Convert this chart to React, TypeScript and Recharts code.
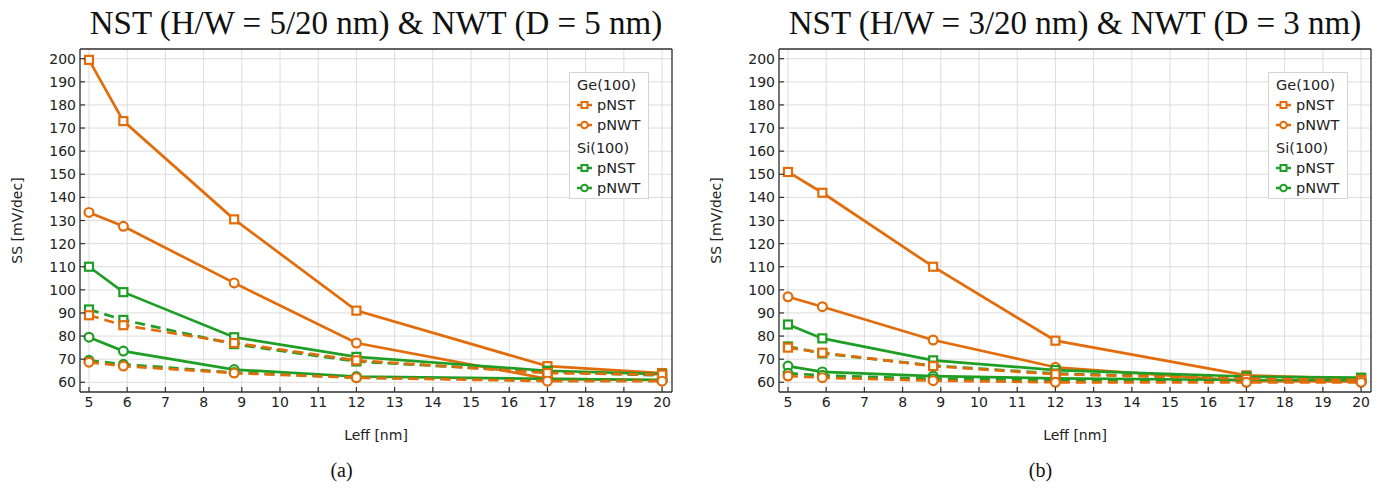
import React from "react";
import { LineChart, Line, XAxis, YAxis, CartesianGrid, Legend } from "recharts";

// gate length points, nm
const leff = [5, 5.9, 8.8, 12, 17, 20];
const xTicks = [5, 6, 7, 8, 9, 10, 11, 12, 13, 14, 15, 16, 17, 18, 19, 20];
const yTicks = [60, 70, 80, 90, 100, 110, 120, 130, 140, 150, 160, 170, 180, 190, 200];

// (a) NST 5/20 nm, NWT D = 5 nm
const aGeNst = [199.5, 173, 130.5, 91, 67, 64];
const aGeNwt = [133.5, 127.5, 103, 77, 61.5, 61];
const aSiNst = [110, 99, 79.5, 71, 65, 63.5];
const aSiNwt = [79.5, 73.5, 65.5, 62.5, 61.5, 61];
const aGeNstDash = [89, 84.7, 77, 69.5, 64, 63.3];
const aGeNwtDash = [68.7, 67, 64, 62, 60.5, 60.5];
const aSiNstDash = [91.5, 87, 76.5, 69, 64.5, 63];
const aSiNwtDash = [69.5, 67.8, 64.2, 62, 61, 60.7];

// (b) NST 3/20 nm, NWT D = 3 nm
const bGeNst = [151, 142, 110, 78, 63, 61.5];
const bGeNwt = [97, 92.7, 78.3, 66.5, 60.5, 60.3];
const bSiNst = [85, 79, 69.5, 65.3, 62.5, 62];
const bSiNwt = [67, 64.5, 62.7, 61.7, 61, 61];
const bGeNstDash = [75, 72.8, 67, 63.5, 61.5, 61];
const bGeNwtDash = [62.7, 62, 60.7, 60, 60, 60];
const bSiNstDash = [75.5, 72.5, 67.2, 63.8, 61.7, 61.2];
const bSiNwtDash = [63.9, 63, 61.5, 61, 60.5, 60.5];

const ORANGE = "#e36c0a";
const GREEN = "#1f9e25";
const FRAME = "#333";
const SANS = "DejaVu Sans, sans-serif";
const SERIF = "Liberation Serif, Times New Roman, serif";

const X_DOMAIN = [4.765, 20.26];
const Y_DOMAIN = [55.8, 204.2];

type Shape = "square" | "circle";
type Series = { key: string; values: number[]; color: string; shape: Shape; dashed: boolean };

function buildSeries(v: number[][]): Series[] {
  const [geNst, geNwt, siNst, siNwt, geNstD, geNwtD, siNstD, siNwtD] = v;
  return [
    { key: "geNst", values: geNst, color: ORANGE, shape: "square", dashed: false },
    { key: "geNwt", values: geNwt, color: ORANGE, shape: "circle", dashed: false },
    { key: "siNst", values: siNst, color: GREEN, shape: "square", dashed: false },
    { key: "siNwt", values: siNwt, color: GREEN, shape: "circle", dashed: false },
    { key: "siNstD", values: siNstD, color: GREEN, shape: "square", dashed: true },
    { key: "siNwtD", values: siNwtD, color: GREEN, shape: "circle", dashed: true },
    { key: "geNstD", values: geNstD, color: ORANGE, shape: "square", dashed: true },
    { key: "geNwtD", values: geNwtD, color: ORANGE, shape: "circle", dashed: true },
  ];
}

const panels = [
  {
    title: "NST (H/W = 5/20 nm) & NWT (D = 5 nm)",
    caption: "(a)",
    series: buildSeries([aGeNst, aGeNwt, aSiNst, aSiNwt, aGeNstDash, aGeNwtDash, aSiNstDash, aSiNwtDash]),
  },
  {
    title: "NST (H/W = 3/20 nm) & NWT (D = 3 nm)",
    caption: "(b)",
    series: buildSeries([bGeNst, bGeNwt, bSiNst, bSiNwt, bGeNstDash, bGeNwtDash, bSiNstDash, bSiNwtDash]),
  },
];

const legendGroups = [
  { title: "Ge(100)", color: ORANGE, items: [{ label: "pNST", shape: "square" as Shape }, { label: "pNWT", shape: "circle" as Shape }] },
  { title: "Si(100)", color: GREEN, items: [{ label: "pNST", shape: "square" as Shape }, { label: "pNWT", shape: "circle" as Shape }] },
];

function makeDot(shape: Shape, color: string, name: string) {
  return (props: any) => {
    const { cx, cy, index } = props;
    if (cx == null || cy == null) return <g key={`${name}-${index}`} />;
    if (shape === "square") {
      return <rect key={`${name}-${index}`} x={cx - 4} y={cy - 4} width={8} height={8} fill="#fff" stroke={color} strokeWidth={2.2} />;
    }
    return <circle key={`${name}-${index}`} cx={cx} cy={cy} r={4.4} fill="#fff" stroke={color} strokeWidth={2.2} />;
  };
}

const XTick = (props: any) => {
  const { x, y, payload } = props;
  return (
    <g>
      <line x1={x} y1={y} x2={x} y2={y - 5} stroke={FRAME} strokeWidth={1.2} />
      <text x={x} y={y + 15} textAnchor="middle" fontSize={14} fill="#222" fontFamily={SANS}>
        {payload.value}
      </text>
    </g>
  );
};

const YTick = (props: any) => {
  const { x, y, payload } = props;
  return (
    <g>
      <line x1={x} y1={y} x2={x + 5} y2={y} stroke={FRAME} strokeWidth={1.2} />
      <text x={x - 4} y={y + 5} textAnchor="end" fontSize={14} fill="#222" fontFamily={SANS}>
        {payload.value}
      </text>
    </g>
  );
};

function LegendIcon({ shape, color }: { shape: Shape; color: string }) {
  return (
    <svg width={16} height={12} style={{ display: "block" }}>
      <line x1={0} y1={6} x2={15} y2={6} stroke={color} strokeWidth={2.5} />
      {shape === "square" ? (
        <rect x={4.5} y={3} width={6} height={6} fill="#fff" stroke={color} strokeWidth={2} />
      ) : (
        <circle cx={7.5} cy={6} r={3.3} fill="#fff" stroke={color} strokeWidth={2} />
      )}
    </svg>
  );
}

function LegendBox() {
  return (
    <div
      style={{
        boxSizing: "border-box",
        width: 80,
        height: 127,
        border: "1px solid #d4d4d4",
        background: "#fff",
        padding: "3px 0 0 7px",
        fontFamily: SANS,
        fontSize: 14.5,
        color: "#222",
      }}
    >
      {legendGroups.map((g, gi) => (
        <div key={g.title} style={{ marginTop: gi === 0 ? 0 : 4 }}>
          <div style={{ height: 19, lineHeight: "19px" }}>{g.title}</div>
          {g.items.map((it) => (
            <div key={it.label} style={{ height: 20, display: "flex", alignItems: "center" }}>
              <LegendIcon shape={it.shape} color={g.color} />
              <span style={{ marginLeft: 4, lineHeight: "20px" }}>{it.label}</span>
            </div>
          ))}
        </div>
      ))}
    </div>
  );
}

function Panel({ title, caption, series, left }: { title: string; caption: string; series: Series[]; left: number }) {
  const data = leff.map((x, i) => {
    const row: Record<string, number> = { leff: x };
    series.forEach((s) => (row[s.key] = s.values[i]));
    return row;
  });

  return (
    <div style={{ position: "absolute", left, top: 0, width: 700, height: 490 }}>
      <div
        style={{
          position: "absolute",
          left: 80,
          width: 592,
          top: 3,
          textAlign: "center",
          fontFamily: SERIF,
          fontSize: 33,
          lineHeight: "40px",
          color: "#111",
          whiteSpace: "nowrap",
        }}
      >
        {title}
      </div>
      <div style={{ position: "absolute", left: 0, top: 0 }}>
        <LineChart width={700} height={490} data={data} margin={{ top: 49, right: 28, bottom: 68, left: 0 }}>
          <CartesianGrid stroke="#dcdcdc" strokeWidth={1} />
          <XAxis
            dataKey="leff"
            type="number"
            domain={X_DOMAIN}
            allowDataOverflow
            ticks={xTicks}
            interval={0}
            height={30}
            tickSize={0}
            tickMargin={0}
            tickLine={false}
            axisLine={{ stroke: FRAME, strokeWidth: 1.3 }}
            tick={<XTick />}
            label={{
              content: (p: any) => {
                const vb = p.viewBox || {};
                return (
                  <text x={vb.x + vb.width / 2} y={440} textAnchor="middle" fontSize={14} fill="#222" fontFamily={SANS}>
                    Leff [nm]
                  </text>
                );
              },
            }}
          />
          <XAxis
            xAxisId="top"
            orientation="top"
            mirror
            dataKey="leff"
            type="number"
            domain={X_DOMAIN}
            allowDataOverflow
            ticks={xTicks}
            interval={0}
            tick={false}
            tickSize={5}
            axisLine={{ stroke: FRAME, strokeWidth: 1.3 }}
            tickLine={{ stroke: FRAME, strokeWidth: 1.2 }}
          />
          <YAxis
            type="number"
            domain={Y_DOMAIN}
            allowDataOverflow
            ticks={yTicks}
            interval={0}
            width={80}
            tickSize={0}
            tickMargin={0}
            tickLine={false}
            axisLine={{ stroke: FRAME, strokeWidth: 1.3 }}
            tick={<YTick />}
            label={{
              content: (p: any) => {
                const vb = p.viewBox || {};
                const cy = vb.y + vb.height / 2;
                return (
                  <text
                    x={22}
                    y={cy}
                    transform={`rotate(-90 22 ${cy})`}
                    textAnchor="middle"
                    fontSize={14}
                    fill="#222"
                    fontFamily={SANS}
                  >
                    SS [mV/dec]
                  </text>
                );
              },
            }}
          />
          <YAxis
            yAxisId="right"
            orientation="right"
            mirror
            type="number"
            domain={Y_DOMAIN}
            allowDataOverflow
            ticks={yTicks}
            interval={0}
            tick={false}
            tickSize={5}
            axisLine={{ stroke: FRAME, strokeWidth: 1.3 }}
            tickLine={{ stroke: FRAME, strokeWidth: 1.2 }}
          />
          <Legend
            layout="vertical"
            align="center"
            verticalAlign="middle"
            wrapperStyle={{ left: 569, top: 72, width: 80, height: 127 }}
            content={() => <LegendBox />}
          />
          {series.map((s) => (
            <Line
              key={s.key}
              dataKey={s.key}
              type="linear"
              stroke={s.color}
              strokeWidth={2.7}
              strokeDasharray={s.dashed ? "10 6" : undefined}
              dot={makeDot(s.shape, s.color, s.key)}
              activeDot={false}
              legendType="none"
              isAnimationActive={false}
            />
          ))}
        </LineChart>
      </div>
      <div
        style={{
          position: "absolute",
          left: 0,
          width: 683,
          top: 457,
          textAlign: "center",
          fontFamily: SERIF,
          fontSize: 20,
          lineHeight: "26px",
          color: "#111",
        }}
      >
        {caption}
      </div>
    </div>
  );
}

export default function App() {
  return (
    <div style={{ position: "absolute", left: 0, top: 0, width: 1389, height: 490, background: "#fff" }}>
      {panels.map((p, i) => (
        <Panel key={p.caption} title={p.title} caption={p.caption} series={p.series} left={i * 699} />
      ))}
    </div>
  );
}
